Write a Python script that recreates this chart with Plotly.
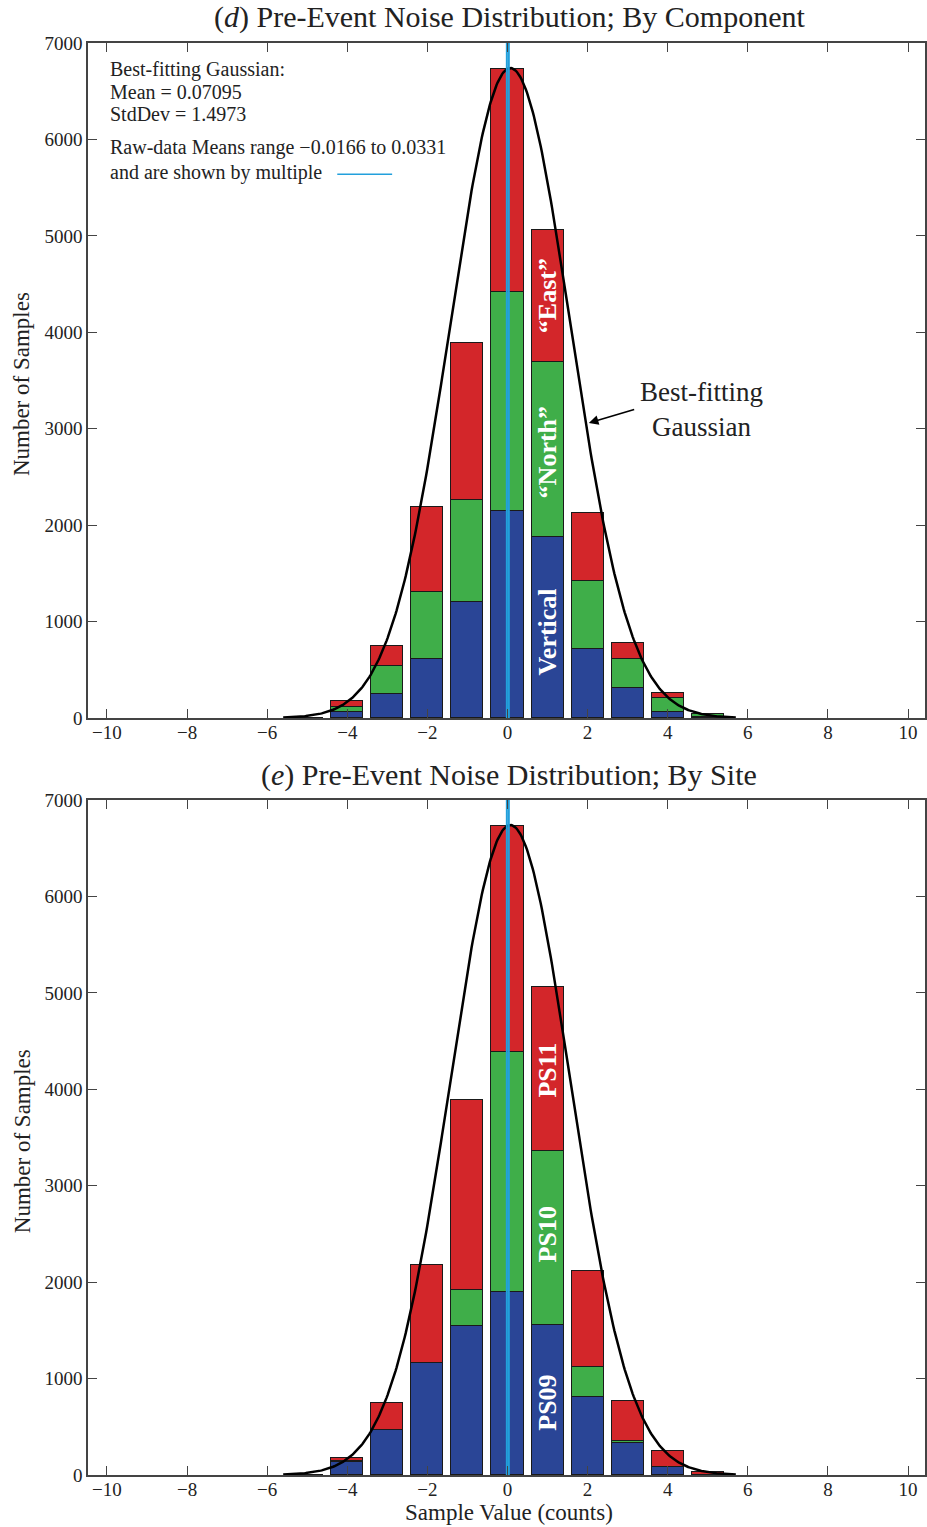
import numpy as np
import plotly.graph_objects as go

# Histogram bin centres (sample value, counts)
bins = [-5, -4, -3, -2, -1, 0, 1, 2, 3, 4, 5]

# Panel (d): samples per bin, split by component
vertical = [0, 65, 246, 612, 1200, 2150, 1880, 715, 310, 65, 10]
north = [0, 52, 294, 698, 1060, 2270, 1810, 710, 300, 145, 30]
east = [0, 63, 210, 880, 1630, 2310, 1370, 700, 170, 46, 5]

# Panel (e): samples per bin, split by site
ps09 = [0, 132, 467, 1160, 1545, 1900, 1556, 809, 329, 80, 0]
ps10 = [0, 10, 0, 0, 375, 2490, 1809, 314, 20, 0, 0]
ps11 = [0, 38, 277, 1020, 1970, 2340, 1695, 992, 422, 172, 34]

# Best-fitting Gaussian
g_mean = 0.07095
g_std = 1.4973
g_peak = 6740
raw_means = [-0.0166, 0.0331]

x_ticks = list(range(-10, 11, 2))
y_ticks = list(range(0, 7001, 1000))

BLUE = "#2A4596"
GREEN = "#3FAE49"
RED = "#D3262A"
CYAN = "#22A0DC"
INK = "#222222"
SERIF = "Liberation Serif"

fig = go.Figure()

gx = np.linspace(-5.6, 5.7, 400)
gy = g_peak * np.exp(-((gx - g_mean) ** 2) / (2 * g_std ** 2))


def add_panel(xa, ya, stacks):
    for vals, col in stacks:
        fig.add_trace(go.Bar(
            x=bins, y=vals, width=0.8, marker=dict(color=col, line=dict(color="#1a1a1a", width=1)),
            xaxis=xa, yaxis=ya, showlegend=False, hoverinfo="skip"))
    fig.add_trace(go.Scatter(x=gx, y=gy, mode="lines", line=dict(color="black", width=2.5),
                             xaxis=xa, yaxis=ya, showlegend=False, hoverinfo="skip"))
    for m in raw_means:
        fig.add_trace(go.Scatter(x=[m, m], y=[0, 7000], mode="lines", line=dict(color=CYAN, width=2),
                                 xaxis=xa, yaxis=ya, showlegend=False, hoverinfo="skip"))


add_panel("x", "y", [(vertical, BLUE), (north, GREEN), (east, RED)])
add_panel("x2", "y2", [(ps09, BLUE), (ps10, GREEN), (ps11, RED)])

axis_common = dict(
    showline=True, linecolor="#444", linewidth=1.5, mirror="ticks",
    ticks="inside", ticklen=9, tickwidth=1.3, tickcolor="#444",
    showgrid=False, zeroline=False,
    tickfont=dict(family=SERIF, size=19, color=INK),
)
xr = [-10.473, 10.423]

fig.update_layout(
    width=927, height=1527,
    margin=dict(l=88, r=0, t=43, b=52),
    paper_bgcolor="white", plot_bgcolor="white",
    barmode="stack", bargap=0,
    xaxis=dict(domain=[0, 1], anchor="y", range=xr, tickvals=x_ticks, ticklabelstandoff=-4, **axis_common),
    yaxis=dict(domain=[0.52863, 1], anchor="x", range=[0, 7000], tickvals=y_ticks, **axis_common),
    xaxis2=dict(domain=[0, 1], anchor="y2", range=xr, tickvals=x_ticks, ticklabelstandoff=-4, **axis_common),
    yaxis2=dict(domain=[0, 0.47137], anchor="x2", range=[0, 7000], tickvals=y_ticks, **axis_common),
)

ann = []


def text(x, y, s, size, xref="paper", yref="paper", **kw):
    d = dict(x=x, y=y, xref=xref, yref=yref, text=s, showarrow=False,
             xanchor="center", yanchor="middle",
             font=dict(family=SERIF, size=size, color=kw.pop("color", INK)))
    d.update(kw)
    ann.append(d)


# Panel titles
text(0.503, 1.0182, "(<i>d</i>) Pre-Event Noise Distribution; By Component", 30)
text(0.503, 0.4888, "(<i>e</i>) Pre-Event Noise Distribution; By Site", 30)

# Axis titles
text(-0.0787, 0.7619, "Number of Samples", 23, textangle=-90)
text(-0.0787, 0.2332, "Number of Samples", 23, textangle=-90)
text(0.503, -0.0265, "Sample Value (counts)", 23)

# Fit summary in panel (d)
info_lines = [
    ("Best-fitting Gaussian:", 6722),
    ("Mean = 0.07095", 6494),
    ("StdDev = 1.4973", 6266),
    ("Raw-data Means range \u22120.0166 to 0.0331", 5913),
    ("and are shown by multiple", 5654),
]
for s, yy in info_lines:
    text(-9.98, yy, s, 20, xref="x", yref="y", xanchor="left")

# Labels inside the x=1 bar
bar_labels_top = [("Vertical", 892), ("\u201cNorth\u201d", 2750), ("\u201cEast\u201d", 4380)]
bar_labels_bot = [("PS09", 745), ("PS10", 2490), ("PS11", 4200)]
for s, yy in bar_labels_top:
    text(1, yy, "<b>" + s + "</b>", 26, xref="x", yref="y", textangle=-90, color="white")
for s, yy in bar_labels_bot:
    text(1, yy, "<b>" + s + "</b>", 26, xref="x2", yref="y2", textangle=-90, color="white")

# Callout for the fitted curve
text(4.84, 3195, "Best-fitting<br>Gaussian", 27, xref="x", yref="y")
ann.append(dict(x=2.03, y=3060, xref="x", yref="y", ax=3.2, ay=3205, axref="x", ayref="y",
                text="", showarrow=True, arrowhead=2, arrowsize=1.2, arrowwidth=1.6,
                arrowcolor="black"))

fig.update_layout(annotations=ann)

# Sample of the raw-mean line style next to the note
fig.add_shape(type="line", xref="x", yref="y", x0=-4.25, x1=-2.88, y0=5640, y1=5640,
              line=dict(color=CYAN, width=1.5))

fig.write_html("out.html")
